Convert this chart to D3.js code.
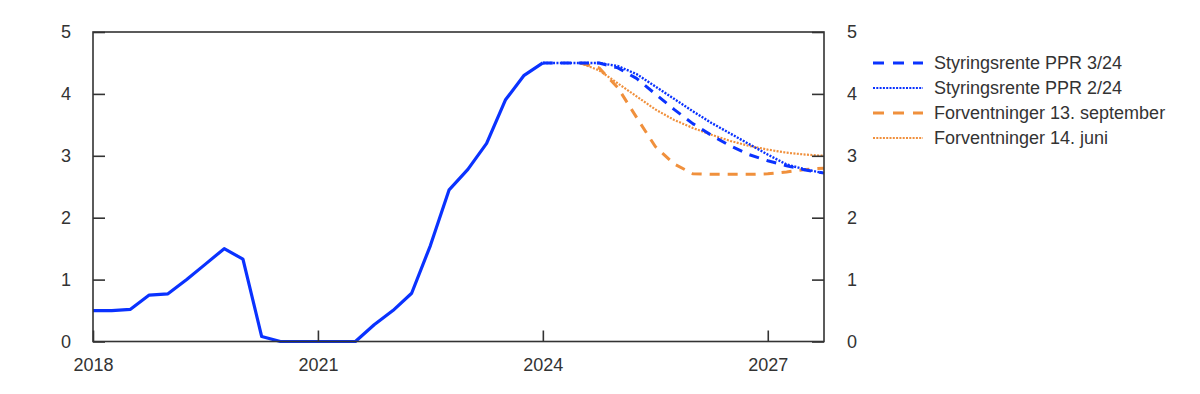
<!DOCTYPE html>
<html lang="no">
<head>
  <meta charset="utf-8" />
  <title>Styringsrente</title>
  <script src="https://cdn.jsdelivr.net/npm/d3@7"></script>
  <style>
    body { margin: 0; background: #fff; }
    text { font-family: "Liberation Sans", Arial, Helvetica, sans-serif; fill: #333; }
  </style>
</head>
<body>
  <script>
    // kvartalsdata, forste verdi gjelder startaaret
    var histStart = 2018;
    var hist = [0.5, 0.5, 0.52, 0.75,
      0.77, 1.0, 1.25, 1.5,
      1.33, 0.08, 0, 0,
      0, 0, 0, 0.27,
      0.5, 0.78, 1.55, 2.45,
      2.78, 3.2, 3.9, 4.3,
      4.5];

    var pprStart = 2024;
    var ppr324 = [4.5, 4.5, 4.5, 4.5, 4.42, 4.25, 4.0, 3.75, 3.52, 3.33, 3.16, 3.02, 2.92, 2.84, 2.77, 2.72];
    var ppr224 = [4.5, 4.5, 4.5, 4.5, 4.45, 4.32, 4.12, 3.92, 3.72, 3.53, 3.36, 3.19, 3.02, 2.86, 2.78, 2.72];

    var fwdStart = 2024.5;
    var fwdSep = [4.5, 4.42, 4.1, 3.62, 3.15, 2.87, 2.71, 2.7, 2.7, 2.7, 2.71, 2.74, 2.78, 2.8];
    var fwdJun = [4.5, 4.38, 4.17, 3.96, 3.75, 3.58, 3.45, 3.34, 3.24, 3.16, 3.1, 3.05, 3.02, 3.0];

    var yearTicks = [2018, 2021, 2024, 2027];
    var rateTicks = [0, 1, 2, 3, 4, 5];
    var legendNames = ["Styringsrente PPR 3/24", "Styringsrente PPR 2/24", "Forventninger 13. september", "Forventninger 14. juni"];

    var blue = "#0a32ff";
    var orange = "#f0903c";

    var width = 1200, height = 394;
    var pL = 93, pR = 824, pT = 32, pB = 341.5;

    var svg = d3.select("body").append("svg")
      .attr("width", width)
      .attr("height", height);

    var x = d3.scaleLinear().domain([2018, 2027.75]).range([pL, pR]);
    var y = d3.scaleLinear().domain([0, 5]).range([pB, pT]);

    function toPoints(start, vals) {
      return vals.map(function (v, i) { return [start + i / 4, v]; });
    }

    var line = d3.line()
      .x(function (d) { return x(d[0]); })
      .y(function (d) { return y(d[1]); });

    var series = [
      { data: toPoints(fwdStart, fwdJun), color: orange, dash: "2,1.4", w: 2.2 },
      { data: toPoints(fwdStart, fwdSep), color: orange, dash: "10,8", w: 3 },
      { data: toPoints(pprStart, ppr224), color: blue, dash: "2,1.4", w: 2.4 },
      { data: toPoints(pprStart, ppr324), color: blue, dash: "10,8", w: 3 },
      { data: toPoints(histStart, hist), color: blue, dash: null, w: 3.2 }
    ];

    series.forEach(function (s) {
      svg.append("path")
        .datum(s.data)
        .attr("d", line)
        .attr("fill", "none")
        .attr("stroke", s.color)
        .attr("stroke-width", s.w)
        .attr("stroke-dasharray", s.dash)
        .attr("stroke-linejoin", "round");
    });

    // akser
    var xAxis = d3.axisBottom(x).tickValues(yearTicks).tickSize(-11).tickPadding(17).tickFormat(d3.format("d"));
    var yLeft = d3.axisLeft(y).tickValues(rateTicks).tickSize(-12).tickPadding(22).tickFormat(d3.format("d"));
    var yRight = d3.axisRight(y).tickValues(rateTicks).tickSize(-12).tickPadding(23).tickFormat(d3.format("d"));

    [[xAxis, "translate(0," + pB + ")"], [yLeft, "translate(" + pL + ",0)"], [yRight, "translate(" + pR + ",0)"]].forEach(function (a) {
      var g = svg.append("g").attr("transform", a[1]).call(a[0]);
      g.select(".domain").remove();
      g.selectAll("line").attr("stroke", "#333").attr("stroke-width", 1.6);
      g.selectAll("text").attr("font-size", 18).attr("fill", "#333");
    });

    svg.append("rect")
      .attr("x", pL).attr("y", pT)
      .attr("width", pR - pL).attr("height", pB - pT)
      .attr("fill", "none")
      .attr("stroke", "#333")
      .attr("stroke-width", 1.6);

    // legende
    var legendStyle = [
      { color: blue, dash: "11,9", w: 3 },
      { color: blue, dash: "2,1.3", w: 2 },
      { color: orange, dash: "11,9", w: 3 },
      { color: orange, dash: "2,1.3", w: 2 }
    ];
    var leg = svg.append("g").selectAll("g")
      .data(legendNames)
      .enter().append("g")
      .attr("transform", function (d, i) { return "translate(873," + (63 + i * 25) + ")"; });
    leg.append("line")
      .attr("x1", 0).attr("x2", 50)
      .attr("stroke", function (d, i) { return legendStyle[i].color; })
      .attr("stroke-width", function (d, i) { return legendStyle[i].w; })
      .attr("stroke-dasharray", function (d, i) { return legendStyle[i].dash; });
    leg.append("text")
      .attr("x", 61).attr("dy", "0.35em")
      .attr("font-size", 18)
      .text(function (d) { return d; });
  </script>
</body>
</html>
